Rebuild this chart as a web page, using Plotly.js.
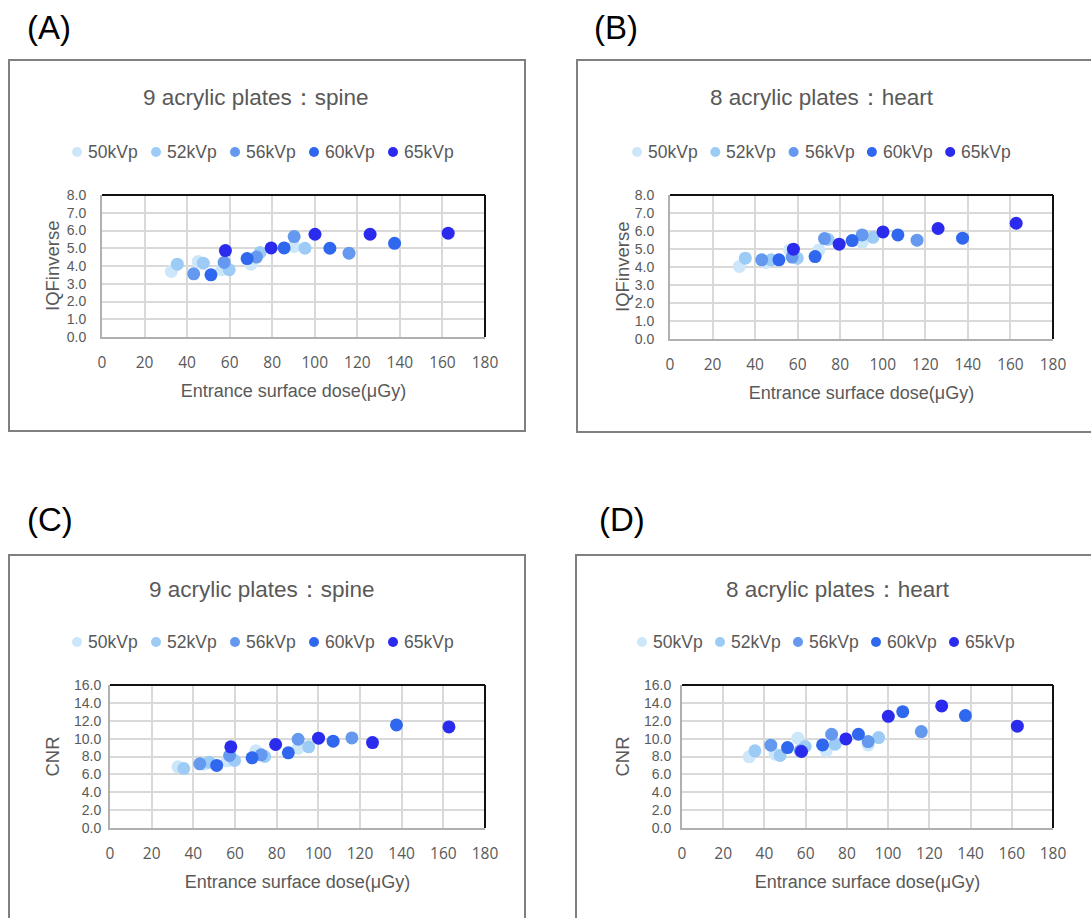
<!DOCTYPE html>
<html>
<head>
<meta charset="utf-8">
<script src="https://cdn.plot.ly/plotly-3.0.1.min.js"></script>
<style>html,body{margin:0;padding:0;background:#fff;}#chart{width:1091px;height:918px;}</style>
</head>
<body>
<div id="chart"></div>
<script>
// ---- data ----
const seriesNames = ['50kVp', '52kVp', '56kVp', '60kVp', '65kVp'];
const seriesColors = ['#CCE6FA', '#9CCBF6', '#6499EF', '#2F68EF', '#2B2BEE'];

// Entrance surface dose (µGy) per kVp setting
const dose50 = [32.6, 45.2, 56.2, 70.0, 90.3];
const dose52 = [35.4, 47.6, 59.8, 74.3, 95.4];
const dose56 = [43.1, 57.4, 72.6, 90.3, 116.1];
const dose60 = [51.2, 68.2, 85.6, 107.1, 137.5];
const dose65 = [58.0, 79.5, 100.1, 126.0, 162.7];

// (A) IQFinverse, 9 acrylic plates: spine
const iqfSpine50 = [3.69, 4.25, 3.79, 4.10, 5.10];
const iqfSpine52 = [4.10, 4.16, 3.79, 4.76, 5.00];
const iqfSpine56 = [3.56, 4.20, 4.50, 5.66, 4.72];
const iqfSpine60 = [3.50, 4.42, 5.02, 5.00, 5.28];
const iqfSpine65 = [4.87, 5.02, 5.79, 5.79, 5.85];

// (B) IQFinverse, 8 acrylic plates: heart
const iqfHeart50 = [4.03, 4.25, 4.95, 4.95, 5.36];
const iqfHeart52 = [4.49, 4.40, 4.49, 5.54, 5.65];
const iqfHeart56 = [4.40, 4.55, 5.58, 5.78, 5.49];
const iqfHeart60 = [4.40, 4.58, 5.47, 5.78, 5.60];
const iqfHeart65 = [4.99, 5.27, 5.95, 6.14, 6.43];

// (C) CNR, 9 acrylic plates: spine
const cnrSpine50 = [6.85, 7.14, 7.52, 8.63, 8.93];
const cnrSpine52 = [6.66, 7.37, 7.55, 8.00, 9.08];
const cnrSpine56 = [7.18, 8.11, 8.19, 9.93, 10.08];
const cnrSpine60 = [7.00, 7.85, 8.41, 9.71, 11.53];
const cnrSpine65 = [9.08, 9.34, 10.05, 9.56, 11.31];

// (D) CNR, 8 acrylic plates: heart
const cnrHeart50 = [7.96, 8.26, 10.05, 8.63, 9.30];
const cnrHeart52 = [8.63, 8.11, 9.12, 9.38, 10.12];
const cnrHeart56 = [9.27, 8.63, 10.49, 9.67, 10.79];
const cnrHeart60 = [9.00, 9.30, 10.49, 13.02, 12.58];
const cnrHeart65 = [8.56, 9.97, 12.50, 13.66, 11.39];

const panelLabels = ['(A)', '(B)', '(C)', '(D)'];
const panelTitles = ['9 acrylic plates\uFF1Aspine', '8 acrylic plates\uFF1Aheart', '9 acrylic plates\uFF1Aspine', '8 acrylic plates\uFF1Aheart'];
const yTitles = ['IQFinverse', 'IQFinverse', 'CNR', 'CNR'];
const yMax = [8, 8, 16, 16];
const yStep = [1, 1, 2, 2];
const xTitle = 'Entrance surface dose(\u03BCGy)';

const doses = [dose50, dose52, dose56, dose60, dose65];
const panelValues = [
  [iqfSpine50, iqfSpine52, iqfSpine56, iqfSpine60, iqfSpine65],
  [iqfHeart50, iqfHeart52, iqfHeart56, iqfHeart60, iqfHeart65],
  [cnrSpine50, cnrSpine52, cnrSpine56, cnrSpine60, cnrSpine65],
  [cnrHeart50, cnrHeart52, cnrHeart56, cnrHeart60, cnrHeart65]
];

// ---- layout geometry (pixels) ----
const W = 1091, H = 918;
const px = x => x / W;
const py = y => 1 - y / H;
const plotBox = [
  {l: 102, r: 485, t: 195, b: 337},
  {l: 670, r: 1053, t: 195, b: 339},
  {l: 110, r: 485, t: 685, b: 828},
  {l: 682, r: 1053, t: 685, b: 828}
];
const frameBox = [
  {l: 9, r: 525, t: 60, b: 431},
  {l: 577, r: 1110, t: 60, b: 432},
  {l: 9, r: 525, t: 555, b: 930},
  {l: 576, r: 1110, t: 555, b: 930}
];
const titlePos = [{x: 256, y: 98}, {x: 822, y: 98}, {x: 262, y: 589}, {x: 838, y: 589}];
const labelPos = [{x: 25, y: 28}, {x: 592, y: 28}, {x: 25, y: 519}, {x: 597, y: 519}];
// legend: first entry text start x, row centre y, entry spacing
const legendPos = [{x: 87, y: 152, dx: 79}, {x: 647, y: 152, dx: 78.3}, {x: 87, y: 642, dx: 79}, {x: 652, y: 642, dx: 78}];
const yTitleX = [52, 622, 52, 622];
const yLabelGap = [11, 11, 4, 6];

const gray = '#595959';
const fontFam = 'Liberation Sans, Arial, sans-serif';
const tickFam = 'Open Sans, Liberation Sans, sans-serif';

const traces = [];
const layout = {
  width: W, height: H,
  margin: {l: 0, r: 0, t: 0, b: 0},
  paper_bgcolor: '#fff', plot_bgcolor: '#fff',
  showlegend: false,
  annotations: [], shapes: []
};

for (let p = 0; p < 4; p++) {
  const sfx = p === 0 ? '' : String(p + 1);
  for (let s = 0; s < 5; s++) {
    traces.push({
      type: 'scatter', mode: 'markers',
      x: doses[s], y: panelValues[p][s],
      name: seriesNames[s],
      xaxis: 'x' + sfx, yaxis: 'y' + sfx,
      showlegend: false,
      marker: {color: seriesColors[s], size: 13, line: {width: 0}},
      hoverinfo: 'x+y+name'
    });
    // legend entry: dot + label
    const lp = legendPos[p];
    const tx = lp.x + s * lp.dx;
    const cx = tx - 10, r = 5;
    layout.shapes.push({type: 'circle', xref: 'paper', yref: 'paper',
      x0: px(cx - r), x1: px(cx + r), y0: py(lp.y + r), y1: py(lp.y - r),
      fillcolor: seriesColors[s], line: {width: 0}});
    layout.annotations.push({text: seriesNames[s], xref: 'paper', yref: 'paper',
      x: px(tx - 1), y: py(lp.y), xanchor: 'left', yanchor: 'middle', showarrow: false,
      font: {family: fontFam, size: 17.5, color: gray}});
  }
  const pb = plotBox[p];
  layout['xaxis' + sfx] = {
    domain: [px(pb.l), px(pb.r)], anchor: 'y' + sfx,
    range: [0, 180], dtick: 20, tick0: 0,
    showgrid: true, gridcolor: '#d9d9d9', gridwidth: 1.5,
    zeroline: false, showline: true, linecolor: '#b0b0b0', linewidth: 2,
    ticks: '', ticklabelstandoff: 10,
    tickfont: {family: tickFam, size: 15.5, color: gray},
    title: {text: xTitle, font: {family: fontFam, size: 18, color: gray}, standoff: 13},
    fixedrange: true
  };
  layout['yaxis' + sfx] = {
    domain: [py(pb.b), py(pb.t)], anchor: 'x' + sfx,
    range: [0, yMax[p]], dtick: yStep[p], tick0: 0, tickformat: '.1f',
    showgrid: true, gridcolor: '#d9d9d9', gridwidth: 1.5,
    zeroline: false, showline: true, linecolor: '#b0b0b0', linewidth: 2,
    ticks: '', ticklabelstandoff: yLabelGap[p],
    tickfont: {family: fontFam, size: 14, color: gray},
    fixedrange: true
  };
  // top & right plot border lines (dark)
  layout.shapes.push({type: 'line', xref: 'x' + sfx + ' domain', yref: 'y' + sfx + ' domain',
    x0: 0, x1: 1, y0: 1, y1: 1, line: {color: '#111', width: 2}});
  layout.shapes.push({type: 'line', xref: 'x' + sfx + ' domain', yref: 'y' + sfx + ' domain',
    x0: 1, x1: 1, y0: 0, y1: 1, line: {color: '#111', width: 2}});
  // frame box
  const fb = frameBox[p];
  layout.shapes.push({type: 'rect', xref: 'paper', yref: 'paper',
    x0: px(fb.l), x1: px(fb.r), y0: py(fb.b), y1: py(fb.t),
    line: {color: '#808080', width: 2}, layer: 'below'});
  // chart title
  layout.annotations.push({text: panelTitles[p], xref: 'paper', yref: 'paper',
    x: px(titlePos[p].x), y: py(titlePos[p].y), xanchor: 'center', yanchor: 'middle',
    showarrow: false, font: {family: fontFam, size: 22.5, color: gray}});
  // panel label
  layout.annotations.push({text: panelLabels[p], xref: 'paper', yref: 'paper',
    x: px(labelPos[p].x), y: py(labelPos[p].y), xanchor: 'left', yanchor: 'middle',
    showarrow: false, font: {family: fontFam, size: 33, color: '#000'}});
  // y axis title
  layout.annotations.push({text: yTitles[p], xref: 'paper', yref: 'paper',
    x: px(yTitleX[p]), y: py((pb.t + pb.b) / 2), xanchor: 'center', yanchor: 'middle',
    textangle: -90, showarrow: false, font: {family: fontFam, size: 18.5, color: gray}});
}

Plotly.newPlot('chart', traces, layout, {displayModeBar: false, staticPlot: false});
</script>
</body>
</html>
